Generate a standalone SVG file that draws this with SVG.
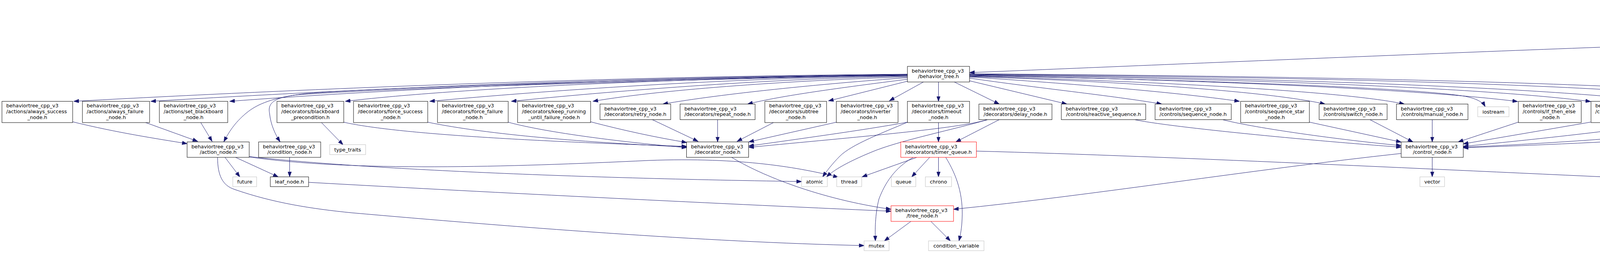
<svg xmlns="http://www.w3.org/2000/svg" width="4979" height="648" viewBox="0 0 4979 648">
<style>
.n rect{fill:#fff;stroke:#000;stroke-width:1}
.x rect{fill:#fff;stroke:#bfbfbf;stroke-width:1}
.r rect{fill:#fff;stroke:#ff0000;stroke-width:1}
.t rect{fill:#bfbfbf;stroke:#000;stroke-width:1}
text{font-family:"DejaVu Sans",Verdana,sans-serif;font-size:12.8px;fill:#000}
.m{text-anchor:middle}
.e path{fill:none;stroke:#191970;stroke-width:1;marker-end:url(#a)}
</style>
<defs>
<marker id="a" markerWidth="14" markerHeight="10" refX="13" refY="5" orient="auto" markerUnits="userSpaceOnUse">
<path d="M0,0.4 L13,5 L0,9.6 z" fill="#191970" stroke="#191970" stroke-width="1"/>
</marker>
</defs>
<rect width="4979" height="648" fill="#fff"/>
<g class="e" id="edges">
<path d="M4695,31 L4695,81"/>
<path d="M4616,118 C4560,135 4470,155 4404,177"/>
<path d="M4649,121 L4530,177"/>
<path d="M4681,121 L4648,177"/>
<path d="M4708,121 L4742,177"/>
<path d="M4730,121 L4830,177"/>
<path d="M4775,117 C4860,140 4905,160 4918,190 C4935,235 4930,265 4915,300 C4903,330 4890,352 4876,371"/>
<path d="M4775,112 C4870,135 4935,160 4955,210 C4978,270 4980,320 4950,365 C4930,395 4910,405 4880,413 C4780,440 4600,455 4417,463"/>
<path d="M4616,103 C4000,122 3000,165 2482,186"/>
<path d="M2443,210 L2558,266.5"/>
<path d="M2482,207 L2731,266.5"/>
<path d="M2482,200 C2650,225 2850,245 2974,266.5"/>
<path d="M2482,197 C2750,215 3000,235 3173,259.5"/>
<path d="M2482,196 C2900,210 3250,235 3392,266.5"/>
<path d="M2482,195 C3000,210 3450,235 3595,266.5"/>
<path d="M2482,194 C3100,205 3600,225 3740,245 C3775,250 3795,260 3802,273"/>
<path d="M2482,193 C3100,205 3650,230 3885,260"/>
<path d="M2482,192 C3200,202 3800,225 4072,260"/>
<path d="M2482,191 C3300,200 4000,225 4300,266.5"/>
<path d="M2482,190 C3300,197 4200,215 4528,266.5"/>
<path d="M2482,189 C3400,195 4400,215 4737,266.5"/>
<path d="M2402.5,210 L2402.5,259.5"/>
<path d="M2364,210 L2277,258"/>
<path d="M2323,208 L2121,258.5"/>
<path d="M2323,203 C2150,225 2000,245 1914,266.5"/>
<path d="M2323,199 C2100,215 1850,240 1697,266.5"/>
<path d="M2323,197 C2050,205 1700,228 1518,259.5"/>
<path d="M2323,195 C1950,202 1550,235 1309,259.5"/>
<path d="M2323,194 C1850,200 1400,232 1100,259.5"/>
<path d="M2323,193 C1700,200 1150,228 884,259.5"/>
<path d="M2323,192 C1600,198 950,232 588,259.5"/>
<path d="M2323,191 C1550,197 850,232 386,259.5"/>
<path d="M2323,190 C1500,196 700,232 189,259.5"/>
<path d="M2323,190.5 C1600,205 950,225 780,240 C700,250 660,265 630,290 C600,315 585,340 573,363"/>
<path d="M2323,191.5 C1600,208 950,228 760,243 C700,250 685,265 690,290 C693,320 705,345 717,363"/>
<path d="M186,312 C300,340 400,355 479,368"/>
<path d="M373,314 L506,362"/>
<path d="M514,314 L543,362"/>
<path d="M822,313 L878,370.5"/>
<path d="M880,313 C1000,340 1300,360 1758,375"/>
<path d="M1095,313 C1250,345 1500,365 1758,376.5"/>
<path d="M1301,313 C1400,340 1600,365 1758,378"/>
<path d="M1512,312 C1600,335 1680,352 1758,365"/>
<path d="M1670,306.5 L1787,362"/>
<path d="M1837,306.5 L1837,363.5"/>
<path d="M1980,314 L1887,362"/>
<path d="M2141,313 L1917,363.5"/>
<path d="M2323,313 C2200,335 2050,355 1917,374"/>
<path d="M2528,306.5 C2450,330 2200,350 1917,377.5"/>
<path d="M2323,313 C2260,340 2180,370 2150,400 C2130,420 2115,440 2106,453"/>
<path d="M2528,306.5 C2450,330 2300,360 2230,390 C2170,415 2135,435 2116,453"/>
<path d="M2558,306.5 L2447,363.5"/>
<path d="M2402.5,314 L2402.5,363.5"/>
<path d="M576,403 L614,453"/>
<path d="M603,403 L712,453"/>
<path d="M741.5,403 L741.5,453"/>
<path d="M638,401 C900,430 1400,455 2052,465"/>
<path d="M638,402 C900,440 1300,428 1660,411 C1900,402 2050,430 2146,454"/>
<path d="M557,403 C557,450 570,475 600,485 C700,520 800,535 900,545 C1300,580 1800,620 2212,629"/>
<path d="M790,467 C1200,490 1800,520 2281,541"/>
<path d="M1873,403 C1950,450 2100,510 2281,536"/>
<path d="M2347,403 L2207,453"/>
<path d="M2380,403 L2334,453"/>
<path d="M2402.5,403 L2402.5,453"/>
<path d="M2421,403 C2450,450 2466,500 2463,560 C2462,585 2459,600 2455,617"/>
<path d="M2338,403 C2290,430 2265,470 2250,510 C2240,550 2240,590 2241,617"/>
<path d="M2499,387 C3000,400 3800,440 4330,463"/>
<path d="M2332,567 L2264,617"/>
<path d="M2383,567 L2433,617"/>
<path d="M3666.5,403 L3666.5,453"/>
<path d="M3587,393 C3200,435 2800,500 2441,536"/>
<path d="M4815,306.5 L4853,370.5"/>
<path d="M2905,306.5 C2990,325 3350,360 3587,377"/>
<path d="M3130,306.5 C3200,325 3400,355 3587,373"/>
<path d="M3352,312.8 L3587,364"/>
<path d="M3507,306.5 L3617,363.5"/>
<path d="M3666.5,306.5 L3666.5,363.5"/>
<path d="M3887,312.8 L3733,363.5"/>
<path d="M4072,312.8 L3746,368.5"/>
<path d="M4295,306.5 C4230,325 3950,355 3746,375"/>
<path d="M4525,306.5 C4450,330 4100,362 3746,377"/>
<path d="M4737,306.5 C4650,335 4200,363 3746,378.5"/>
</g>
<g id="n_title" class="t"><rect x="4612" y="6" width="166" height="25"/><text class="m" x="4695" y="23">t03_generic_ports.cpp</text></g>
<g id="n_bt_factory" class="n"><rect x="4616" y="81" width="159" height="40"/><text x="4627" y="97">behaviortree_cpp_v3</text><text class="m" x="4695.5" y="111">/bt_factory.h</text></g>
<g id="n_memory" class="x"><rect x="4329" y="177" width="78" height="25"/><text class="m" x="4368" y="194">memory</text></g>
<g id="n_unordered_map" class="x"><rect x="4432" y="177" width="123" height="25"/><text class="m" x="4493.5" y="194">unordered_map</text></g>
<g id="n_unordered_set" class="x"><rect x="4580" y="177" width="115" height="25"/><text class="m" x="4637.5" y="194">unordered_set</text></g>
<g id="n_cstring" class="x"><rect x="4719" y="177" width="67" height="25"/><text class="m" x="4752.5" y="194">cstring</text></g>
<g id="n_algorithm" class="x"><rect x="4810" y="177" width="85" height="25"/><text class="m" x="4852.5" y="194">algorithm</text></g>
<g id="n_behavior_tree" class="n"><rect x="2323" y="170" width="159" height="40"/><text x="2334" y="186">behaviortree_cpp_v3</text><text class="m" x="2402.5" y="200">/behavior_tree.h</text></g>
<g id="n_always_success" class="n"><rect x="5" y="259.5" width="181" height="54.5"/><text x="16" y="275">behaviortree_cpp_v3</text><text x="16" y="290">/actions/always_success</text><text class="m" x="95.5" y="305">_node.h</text></g>
<g id="n_always_failure" class="n"><rect x="211" y="259.5" width="172" height="54.5"/><text x="222" y="275">behaviortree_cpp_v3</text><text x="222" y="290">/actions/always_failure</text><text class="m" x="297" y="305">_node.h</text></g>
<g id="n_set_blackboard" class="n"><rect x="408" y="259.5" width="175" height="54.5"/><text x="419" y="275">behaviortree_cpp_v3</text><text x="419" y="290">/actions/set_blackboard</text><text class="m" x="495.5" y="305">_node.h</text></g>
<g id="n_blackboard_precondition" class="n"><rect x="709" y="259.5" width="171" height="54.5"/><text x="720" y="275">behaviortree_cpp_v3</text><text x="720" y="290">/decorators/blackboard</text><text class="m" x="794.5" y="305">_precondition.h</text></g>
<g id="n_force_success" class="n"><rect x="905" y="259.5" width="190" height="54.5"/><text x="916" y="275">behaviortree_cpp_v3</text><text x="916" y="290">/decorators/force_success</text><text class="m" x="1000" y="305">_node.h</text></g>
<g id="n_force_failure" class="n"><rect x="1120" y="259.5" width="181" height="54.5"/><text x="1131" y="275">behaviortree_cpp_v3</text><text x="1131" y="290">/decorators/force_failure</text><text class="m" x="1210.5" y="305">_node.h</text></g>
<g id="n_keep_running" class="n"><rect x="1325" y="259.5" width="187" height="54.5"/><text x="1336" y="275">behaviortree_cpp_v3</text><text x="1336" y="290">/decorators/keep_running</text><text class="m" x="1418.5" y="305">_until_failure_node.h</text></g>
<g id="n_retry" class="n"><rect x="1536" y="266.5" width="181" height="40"/><text x="1547" y="282.5">behaviortree_cpp_v3</text><text class="m" x="1626.5" y="296.5">/decorators/retry_node.h</text></g>
<g id="n_repeat" class="n"><rect x="1741" y="266.5" width="192" height="40"/><text x="1752" y="282.5">behaviortree_cpp_v3</text><text class="m" x="1837" y="296.5">/decorators/repeat_node.h</text></g>
<g id="n_subtree" class="n"><rect x="1958" y="259.5" width="158" height="54.5"/><text x="1969" y="275">behaviortree_cpp_v3</text><text x="1969" y="290">/decorators/subtree</text><text class="m" x="2037" y="305">_node.h</text></g>
<g id="n_inverter" class="n"><rect x="2141" y="259.5" width="158" height="54.5"/><text x="2152" y="275">behaviortree_cpp_v3</text><text x="2152" y="290">/decorators/inverter</text><text class="m" x="2220" y="305">_node.h</text></g>
<g id="n_timeout" class="n"><rect x="2323" y="259.5" width="159" height="54.5"/><text x="2334" y="275">behaviortree_cpp_v3</text><text x="2334" y="290">/decorators/timeout</text><text class="m" x="2402.5" y="305">_node.h</text></g>
<g id="n_delay" class="n"><rect x="2506" y="266.5" width="187" height="40"/><text x="2517" y="282.5">behaviortree_cpp_v3</text><text class="m" x="2599.5" y="296.5">/decorators/delay_node.h</text></g>
<g id="n_reactive_sequence" class="n"><rect x="2717" y="266.5" width="216" height="40"/><text x="2728" y="282.5">behaviortree_cpp_v3</text><text class="m" x="2825" y="296.5">/controls/reactive_sequence.h</text></g>
<g id="n_sequence_node" class="n"><rect x="2957" y="266.5" width="195" height="40"/><text x="2968" y="282.5">behaviortree_cpp_v3</text><text class="m" x="3054.5" y="296.5">/controls/sequence_node.h</text></g>
<g id="n_sequence_star" class="n"><rect x="3176" y="259.5" width="176" height="54.5"/><text x="3187" y="275">behaviortree_cpp_v3</text><text x="3187" y="290">/controls/sequence_star</text><text class="m" x="3264" y="305">_node.h</text></g>
<g id="n_switch" class="n"><rect x="3377" y="266.5" width="174" height="40"/><text x="3388" y="282.5">behaviortree_cpp_v3</text><text class="m" x="3464" y="296.5">/controls/switch_node.h</text></g>
<g id="n_manual" class="n"><rect x="3575" y="266.5" width="183" height="40"/><text x="3586" y="282.5">behaviortree_cpp_v3</text><text class="m" x="3666.5" y="296.5">/controls/manual_node.h</text></g>
<g id="n_iostream" class="x"><rect x="3783" y="273.5" width="80" height="25.5"/><text class="m" x="3823" y="290.7">iostream</text></g>
<g id="n_if_then_else" class="n"><rect x="3887" y="259.5" width="161" height="54.5"/><text x="3898" y="275">behaviortree_cpp_v3</text><text x="3898" y="290">/controls/if_then_else</text><text class="m" x="3967.5" y="305">_node.h</text></g>
<g id="n_while_do_else" class="n"><rect x="4073" y="259.5" width="174" height="54.5"/><text x="4084" y="275">behaviortree_cpp_v3</text><text x="4084" y="290">/controls/while_do_else</text><text class="m" x="4160" y="305">_node.h</text></g>
<g id="n_reactive_fallback" class="n"><rect x="4272" y="266.5" width="206" height="40"/><text x="4283" y="282.5">behaviortree_cpp_v3</text><text class="m" x="4375" y="296.5">/controls/reactive_fallback.h</text></g>
<g id="n_fallback" class="n"><rect x="4502" y="266.5" width="186" height="40"/><text x="4513" y="282.5">behaviortree_cpp_v3</text><text class="m" x="4595" y="296.5">/controls/fallback_node.h</text></g>
<g id="n_parallel" class="n"><rect x="4712" y="266.5" width="182" height="40"/><text x="4723" y="282.5">behaviortree_cpp_v3</text><text class="m" x="4803" y="296.5">/controls/parallel_node.h</text></g>
<g id="n_action_node" class="n"><rect x="479" y="363.5" width="159" height="39.5"/><text x="490" y="379.5">behaviortree_cpp_v3</text><text class="m" x="558.5" y="393.5">/action_node.h</text></g>
<g id="n_condition_node" class="n"><rect x="662" y="363.5" width="159" height="39.5"/><text x="673" y="379.5">behaviortree_cpp_v3</text><text class="m" x="741.5" y="393.5">/condition_node.h</text></g>
<g id="n_type_traits" class="x"><rect x="844" y="370.5" width="92" height="25.5"/><text class="m" x="890" y="387.7">type_traits</text></g>
<g id="n_decorator_node" class="n"><rect x="1757.5" y="363.5" width="159" height="39.5"/><text x="1769" y="379.5">behaviortree_cpp_v3</text><text class="m" x="1837" y="393.5">/decorator_node.h</text></g>
<g id="n_timer_queue" class="r"><rect x="2306" y="363.5" width="193.5" height="39.5"/><text x="2317" y="379.5">behaviortree_cpp_v3</text><text class="m" x="2402.5" y="393.5">/decorators/timer_queue.h</text></g>
<g id="n_control_node" class="n"><rect x="3587" y="363.5" width="159" height="39.5"/><text x="3598" y="379.5">behaviortree_cpp_v3</text><text class="m" x="3666.5" y="393.5">/control_node.h</text></g>
<g id="n_set" class="x"><rect x="4842" y="370.5" width="43" height="25.5"/><text class="m" x="4863.5" y="387.7">set</text></g>
<g id="n_future" class="x"><rect x="596" y="453" width="61" height="25"/><text class="m" x="626.5" y="470">future</text></g>
<g id="n_leaf_node" class="n"><rect x="692" y="453" width="98" height="25"/><text class="m" x="741" y="470">leaf_node.h</text></g>
<g id="n_atomic" class="x"><rect x="2052" y="453" width="66" height="25"/><text class="m" x="2085" y="470">atomic</text></g>
<g id="n_thread" class="x"><rect x="2142" y="453" width="64" height="25"/><text class="m" x="2174" y="470">thread</text></g>
<g id="n_queue" class="x"><rect x="2282" y="453" width="62.5" height="25"/><text class="m" x="2313" y="470">queue</text></g>
<g id="n_chrono" class="x"><rect x="2369" y="453" width="67" height="25"/><text class="m" x="2402.5" y="470">chrono</text></g>
<g id="n_vector" class="x"><rect x="3635" y="453" width="63" height="25"/><text class="m" x="3666.5" y="470">vector</text></g>
<g id="n_functional" class="x"><rect x="4330" y="453" width="86.5" height="25"/><text class="m" x="4373" y="470">functional</text></g>
<g id="n_tree_node" class="r"><rect x="2281" y="527" width="160" height="40"/><text x="2292" y="543">behaviortree_cpp_v3</text><text class="m" x="2361" y="557">/tree_node.h</text></g>
<g id="n_mutex" class="x"><rect x="2212" y="617" width="64" height="25"/><text class="m" x="2244" y="634">mutex</text></g>
<g id="n_condition_variable" class="x"><rect x="2377" y="617" width="142" height="25"/><text class="m" x="2448" y="634">condition_variable</text></g>
</svg>
